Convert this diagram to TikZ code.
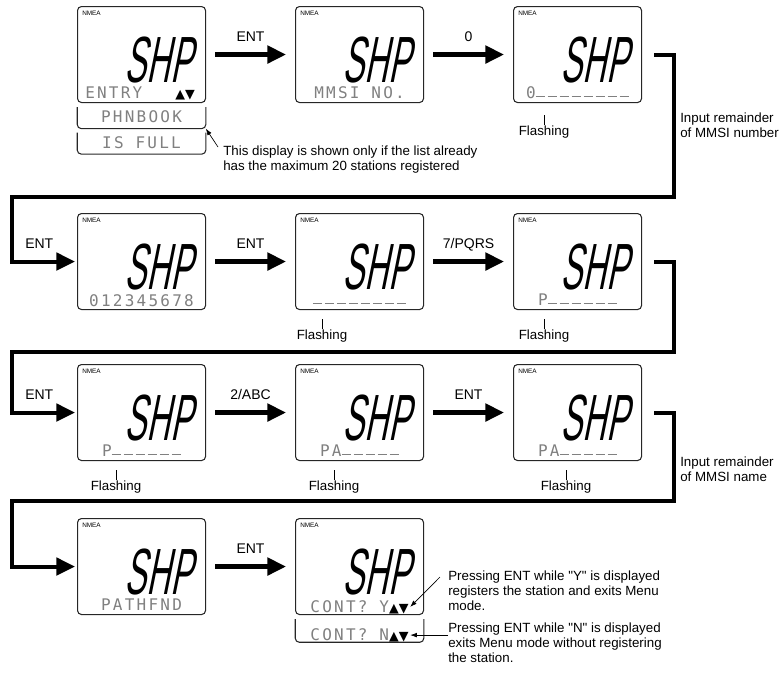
\documentclass[tikz,border=0pt]{standalone}
\usepackage{fontspec}
\setmainfont{Liberation Sans}
\newfontfamily\lcdfont[LetterSpace=14]{DejaVu Sans Mono}
\newfontfamily\segfont[FakeStretch=0.5,FakeSlant=0.2]{Liberation Sans}
\newfontfamily\arrowfont{DejaVu Sans}
\usetikzlibrary{
  arrows.meta,
  positioning
}
\tikzset{>=latex}
% LCD helpers
\newcommand{\lcddash}{\textcolor{black!50}{\rule[1pt]{7pt}{0.7pt}}\hspace{2pt}}
\newcommand{\updn}{{\arrowfont\fontsize{9.5}{10}\selectfont\textcolor{black}{▲▼}}}
\tikzset{
  screen/.style={draw=black!85, line width=0.8pt, rounded corners=3pt,
    minimum width=96pt, minimum height=72pt, inner sep=0pt, anchor=north west},
  panel/.style={minimum width=96pt, inner sep=0pt, anchor=north},
  panelline/.style={draw=black!85, line width=0.8pt, rounded corners=3pt},
  nmea/.style={font=\fontsize{4.8}{5}\selectfont, inner sep=0pt, anchor=north west},
  shp/.style={font={\segfont\fontsize{49}{49}\selectfont}, inner sep=0pt, anchor=base east},
  lcd/.style={font={\lcdfont\fontsize{12}{12}\selectfont}, text=black!50, inner sep=0pt, anchor=base},
  keyarrow/.style={line width=3.2pt, -{Triangle[length=14pt,width=13pt]},
    shorten <=6.75pt, shorten >=6.75pt},
  flow/.style={line width=3pt, -{Triangle[length=14pt,width=13pt]}, shorten >=1.5pt},
  keylabel/.style={font=\fontsize{10.5}{12}\selectfont, anchor=base, yshift=10pt},
  note/.style={font=\fontsize{10}{11}\selectfont, align=left, inner sep=0pt, anchor=north west},
  flashing/.style={font=\fontsize{10}{11}\selectfont, inner sep=0pt, anchor=north},
  tick/.style={line width=0.6pt},
  leader/.style={line width=0.5pt, -{Latex[length=5pt,width=3.5pt]}}
}

\begin{document}
\begin{tikzpicture}[x=0.75pt, y=-0.75pt]
  \useasboundingbox (0,0) rectangle (781,675);

  % displays
  \foreach \n/\x/\y in {s11/77/6, s12/295/6, s13/513/6,
      s21/77/213, s22/295/213, s23/513/213,
      s31/77/364, s32/295/364, s33/513/364,
      s41/77/518, s42/295/518} {
    \node[screen] (\n) at (\x,\y) {};
    \node[nmea] at ([shift={(5,5)}]\n.north west) {NMEA};
    \node[shp] at ([shift={(-14,76)}]\n.north east) {SHP};
  }

  % bottom lines of the displays
  \node[lcd, anchor=base west] (t11) at ([shift={(8,-5)}]s11.south west) {ENTRY};
  \node[inner sep=0pt, anchor=base east] (a11) at ([shift={(-11,-5)}]s11.south east) {\updn};
  \node[lcd] (t12) at ([shift={(0,-5)}]s12.south) {MMSI NO.};
  \node[lcd] (t13) at ([shift={(0,-5)}]s13.south) {0\lcddash\lcddash\lcddash\lcddash\lcddash\lcddash\lcddash\lcddash};
  \node[lcd] (t21) at ([shift={(0,-4)}]s21.south) {012345678};
  \node[lcd] (t22) at ([shift={(0,-5)}]s22.south) {\lcddash\lcddash\lcddash\lcddash\lcddash\lcddash\lcddash\lcddash};
  \node[lcd] (t23) at ([shift={(0,-5)}]s23.south) {P\lcddash\lcddash\lcddash\lcddash\lcddash\lcddash};
  \node[lcd] (t31) at ([shift={(0,-5)}]s31.south) {P\lcddash\lcddash\lcddash\lcddash\lcddash\lcddash};
  \node[lcd] (t32) at ([shift={(0,-5)}]s32.south) {PA\lcddash\lcddash\lcddash\lcddash\lcddash};
  \node[lcd] (t33) at ([shift={(0,-5)}]s33.south) {PA\lcddash\lcddash\lcddash\lcddash\lcddash};
  \node[lcd] (t41) at ([shift={(0,-5)}]s41.south) {PATHFND};
  \node[lcd] (t42) at ([shift={(0,-3)}]s42.south) {CONT? Y\updn};

  % extra lines under the displays
  \node[panel, minimum height=18.75pt] (p1) at (s11.south) {};
  \node[panel, minimum height=18.75pt] (p2) at (p1.south) {};
  \node[panel, minimum height=20pt] (p3) at (s42.south) {};
  \foreach \p in {p1,p2,p3}
    \draw[panelline] ([yshift=-3pt]\p.north west) |- (\p.south) -| ([yshift=-3pt]\p.north east);
  \node[lcd] (t1b) at ([shift={(0,-6)}]p1.south) {PHNBOOK};
  \node[lcd] (t1c) at ([shift={(0,-6)}]p2.south) {IS FULL};
  \node[lcd] (t42b) at ([shift={(0,-2)}]p3.south) {CONT? N\updn};

  % key presses
  \draw[keyarrow] (s11) -- node[keylabel] {ENT} (s12);
  \draw[keyarrow] (s12) -- node[keylabel] {0} (s13);
  \draw[keyarrow] (s21) -- node[keylabel] {ENT} (s22);
  \draw[keyarrow] (s22) -- node[keylabel] {7/PQRS} (s23);
  \draw[keyarrow] (s31) -- node[keylabel] {2/ABC} (s32);
  \draw[keyarrow] (s32) -- node[keylabel] {ENT} (s33);
  \draw[keyarrow] (s41) -- node[keylabel] {ENT} (s42);

  % row to row
  \coordinate (lane1) at (12,197);
  \coordinate (lane2) at (12,352);
  \coordinate (lane3) at (12,501);
  \draw[flow] ([xshift=9pt]s13.east) -- ++(20,0) |- (lane1)
    |- node[keylabel, pos=0.71] {ENT} (s21.west);
  \draw[flow] ([xshift=9pt]s23.east) -- ++(20,0) |- (lane2)
    |- node[keylabel, pos=0.71] {ENT} (s31.west);
  \draw[flow] ([xshift=9pt]s33.east) -- ++(20,0) |- (lane3) |- (s41.west);

  \node[note] (in1) at (680,113) {Input remainder\\of MMSI number};
  \node[note] (in2) at (680,457) {Input remainder\\of MMSI name};

  % flashing marks
  \foreach \n/\x/\y in {f13/544/126, f22/322/330, f23/544/330,
      f31/116/481, f32/334/481, f33/566/481} {
    \node[flashing] (\n) at (\x,\y) {Flashing};
    \draw[tick] ([yshift=1pt]\n.north) -- ++(0,-10);
  }

  % notes
  \node[note] (full) at (223,146)
    {This display is shown only if the list already\\has the maximum 20 stations registered};
  \draw[leader] ([shift={(-5,1)}]full.north west) -- (p1.south east);
  \node[note] (yes) at (448,571)
    {Pressing ENT while \textquotedbl Y\textquotedbl{} is displayed\\registers the station and exits Menu\\mode.};
  \draw[leader] ([shift={(-8,6)}]yes.north west) -- ([xshift=1pt]t42.east);
  \node[note] (no) at (448,623)
    {Pressing ENT while \textquotedbl N\textquotedbl{} is displayed\\exits Menu mode without registering\\the station.};
  \draw[leader] (t42b.east -| no.west) -- ([xshift=1pt]t42b.east);
\end{tikzpicture}
\end{document}
